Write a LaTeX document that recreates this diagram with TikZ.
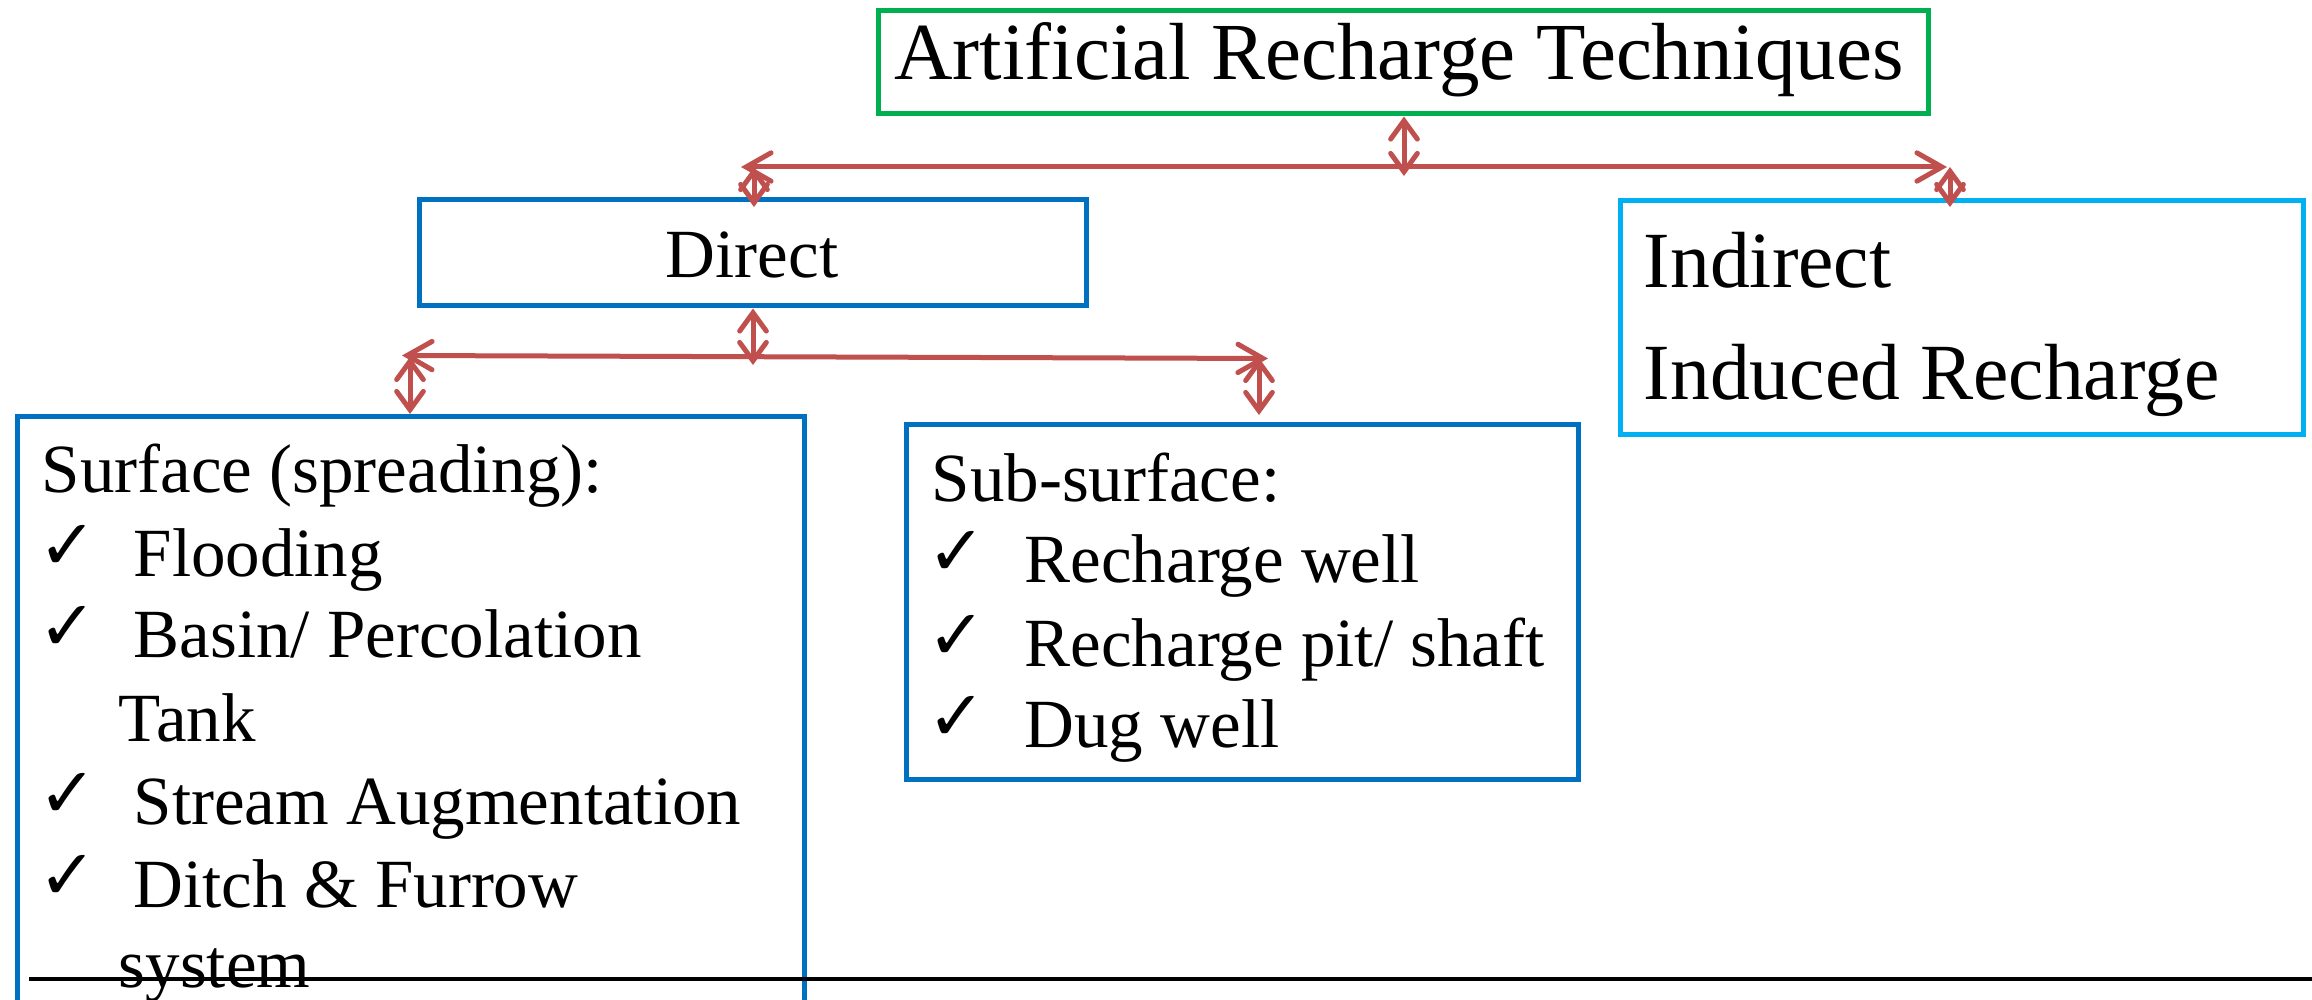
\documentclass[tikz,border=0pt]{standalone}
\usepackage{fontspec}
\setmainfont{Liberation Serif}
\newfontfamily\chkfont{DejaVu Sans}
\usetikzlibrary{arrows.meta,fit}
\definecolor{titlegreen}{HTML}{00B050}
\definecolor{boxblue}{HTML}{0070C0}
\definecolor{lightblue}{HTML}{00B0F0}
\definecolor{arrowred}{HTML}{C0504D}
\tikzset{
  frame/.style={draw, line width=1.5pt, inner sep=0pt, fill=none},
  hconn/.style={draw=arrowred, line width=1.5pt, {Straight Barb[length=7.5pt,width=8.5pt,line cap=round]}-{Straight Barb[length=7.5pt,width=8.5pt,line cap=round]}},
  vconn/.style={draw=arrowred, line width=1.5pt, {Straight Barb[length=5.5pt,width=8pt,line cap=round]}-{Straight Barb[length=5.5pt,width=8pt,line cap=round]}},
  txt/.style={anchor=base west, inner sep=0pt, font=\fontsize{20.7pt}{24pt}\selectfont},
  chk/.style={anchor=base west, inner sep=0pt, font=\chkfont\bfseries\fontsize{21pt}{24pt}\selectfont},
}
\begin{document}
\begin{tikzpicture}[x=0.3pt,y=-0.3pt]
\clip (0,0) rectangle (2312,1000);
\fill[white] (0,0) rectangle (2312,1000);

% title
\coordinate (t1) at (878,11); \coordinate (t2) at (1928,114);
\node[frame, draw=titlegreen, fit=(t1)(t2)] (title) {};
\node[anchor=base, inner sep=0pt, font=\fontsize{24.3pt}{28pt}\selectfont] (titletext) at (1399,80) {Artificial Recharge Techniques};

% direct
\coordinate (d1) at (419,200); \coordinate (d2) at (1086,306);
\node[frame, draw=boxblue, fit=(d1)(d2)] (direct) {};
\node[anchor=base, inner sep=0pt, font=\fontsize{20.7pt}{24pt}\selectfont] (directtext) at (752,278) {Direct};

% indirect
\coordinate (i1) at (1620,201); \coordinate (i2) at (2303,435);
\node[frame, draw=lightblue, fit=(i1)(i2)] (indirect) {};
\node[anchor=base west, inner sep=0pt, font=\fontsize{23.9pt}{28pt}\selectfont] (indtext1) at (1643,288) {Indirect};
\node[anchor=base west, inner sep=0pt, font=\fontsize{23.9pt}{28pt}\selectfont] (indtext2) at (1643,400) {Induced Recharge};

% surface
\coordinate (s1) at (17,417); \coordinate (s2) at (804,1020);
\node[frame, draw=boxblue, fit=(s1)(s2)] (surface) {};
\node[txt] (sl0) at (41,493) {Surface (spreading):};
\node[chk] (sc1) at (38,570) {✓};
\node[txt] (sl1) at (133,577) {Flooding};
\node[chk] (sc2) at (38,651) {✓};
\node[txt] (sl2) at (133,658) {Basin/ Percolation};
\node[txt] (sl3) at (118,742) {Tank};
\node[chk] (sc4) at (38,818) {✓};
\node[txt] (sl4) at (133,825) {Stream Augmentation};
\node[chk] (sc5) at (38,900) {✓};
\node[txt] (sl5) at (133,907) {Ditch \& Furrow};
\node[txt] (sl6) at (118,988) {system};

% sub-surface
\coordinate (u1) at (906,425); \coordinate (u2) at (1578,780);
\node[frame, draw=boxblue, fit=(u1)(u2)] (subsurface) {};
\node[txt] (ul0) at (931,502) {Sub-surface:};
\node[chk] (uc1) at (927,576) {✓};
\node[txt] (ul1) at (1024,583) {Recharge well};
\node[chk] (uc2) at (927,660) {✓};
\node[txt] (ul2) at (1024,667) {Recharge pit/ shaft};
\node[chk] (uc3) at (927,741) {✓};
\node[txt] (ul3) at (1024,748) {Dug well};

% connectors, level 1
\coordinate (h1l) at (741,167); \coordinate (h1r) at (1947,167);
\coordinate (h1c) at (1404,176);
\coordinate (h1a) at (754,167); \coordinate (h1b) at (1950,167);
\coordinate (e1a) at (754,207); \coordinate (e1b) at (1950,207);
\draw[hconn] (h1l) -- (h1r);
\draw[vconn] (title.south -| h1c) -- (h1c);
\draw[vconn] (h1a) -- (e1a);
\draw[vconn] (h1b) -- (e1b);

% connectors, level 2
\coordinate (h2l) at (402,355.5); \coordinate (h2r) at (1268,358.5);
\coordinate (h2c) at (753,365);
\coordinate (h2a) at (410,357); \coordinate (h2b) at (1259,358);
\coordinate (e2a) at (410,414); \coordinate (e2b) at (1259,415);
\draw[hconn] (h2l) -- (h2r);
\draw[vconn] (direct.south -| h2c) -- (h2c);
\draw[vconn] (h2a) -- (e2a);
\draw[vconn] (h2b) -- (e2b);

% bottom rule
\coordinate (r1) at (29,979); \coordinate (r2) at (2312,979);
\draw[line width=1.2pt, black] (r1) -- (r2);
\end{tikzpicture}
\end{document}
